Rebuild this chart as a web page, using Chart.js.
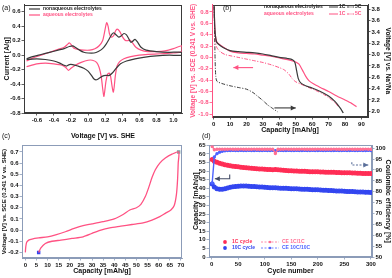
<!DOCTYPE html>
<html>
<head>
<meta charset="utf-8">
<script src="https://cdn.jsdelivr.net/npm/chart.js@4.4.0/dist/chart.umd.min.js"></script>
<style>
  html, body { margin: 0; padding: 0; background: #fff; }
  #wrap { position: relative; width: 392px; height: 278px; overflow: hidden; }
  canvas { position: absolute; }
</style>
</head>
<body>
<div id="wrap">
  <canvas id="ca" width="196" height="140" style="left:0;top:0"></canvas>
  <canvas id="cb" width="206" height="140" style="left:186px;top:0"></canvas>
  <canvas id="cc" width="196" height="138" style="left:0;top:140px"></canvas>
  <canvas id="cd" width="206" height="138" style="left:186px;top:140px"></canvas>
</div>
<script>
const FONT = '"Liberation Sans", Arial, sans-serif';
const DARK = '#3a3a3a';
const PINK = '#ff5283';
const RED = '#ff2d55';
const BLUE = '#3346f0';
const STEEL = '#8c9cb8';

// (a) cyclic voltammograms, [V vs SHE, A/g], forward then reverse sweep
const cvNonaq = [
  [-0.72,-0.05],[-0.65,-0.02],[-0.55,0.01],[-0.45,0.04],[-0.35,0.07],[-0.28,0.09],[-0.22,0.12],[-0.18,0.13],
  [-0.15,0.11],[-0.1,0.07],[-0.05,0.04],[0.0,0.03],[0.07,0.03],[0.12,0.05],[0.17,0.09],[0.21,0.15],[0.25,0.23],
  [0.28,0.29],[0.3,0.31],[0.33,0.28],[0.36,0.25],[0.39,0.27],[0.42,0.3],[0.45,0.28],[0.48,0.22],[0.5,0.18],
  [0.52,0.19],[0.55,0.22],[0.58,0.18],[0.62,0.11],[0.68,0.07],[0.8,0.05],[0.95,0.04],[1.1,0.04],
  [1.1,0.0],[0.95,0.0],[0.8,-0.01],[0.65,-0.03],[0.55,-0.05],[0.45,-0.08],[0.38,-0.12],[0.33,-0.18],[0.29,-0.24],
  [0.25,-0.28],[0.21,-0.28],[0.17,-0.29],[0.13,-0.32],[0.1,-0.34],[0.07,-0.33],[0.04,-0.28],[0.0,-0.22],
  [-0.05,-0.18],[-0.12,-0.15],[-0.18,-0.13],[-0.22,-0.13],[-0.25,-0.15],[-0.28,-0.14],[-0.33,-0.11],[-0.4,-0.08],
  [-0.5,-0.06],[-0.6,-0.05],[-0.72,-0.06]
];
const cvAq = [
  [-0.72,-0.08],[-0.65,-0.04],[-0.55,0.0],[-0.45,0.04],[-0.35,0.08],[-0.28,0.11],[-0.24,0.15],[-0.22,0.17],
  [-0.2,0.15],[-0.17,0.1],[-0.12,0.08],[-0.05,0.07],[0.02,0.07],[0.08,0.09],[0.13,0.13],[0.17,0.2],[0.19,0.3],
  [0.21,0.42],[0.22,0.45],[0.235,0.4],[0.25,0.3],[0.27,0.25],[0.3,0.27],[0.32,0.33],[0.34,0.36],[0.37,0.33],
  [0.4,0.26],[0.43,0.21],[0.46,0.2],[0.49,0.21],[0.52,0.17],[0.56,0.11],[0.62,0.07],[0.7,0.05],[0.8,0.05],
  [0.9,0.06],[1.0,0.09],[1.1,0.13],
  [1.1,0.05],[1.0,0.03],[0.85,0.02],[0.7,0.01],[0.6,0.0],[0.5,-0.02],[0.42,-0.05],[0.37,-0.09],[0.34,-0.15],
  [0.32,-0.28],[0.305,-0.45],[0.295,-0.51],[0.28,-0.42],[0.265,-0.3],[0.25,-0.25],[0.23,-0.26],[0.21,-0.36],
  [0.195,-0.5],[0.185,-0.57],[0.17,-0.45],[0.155,-0.3],[0.13,-0.17],[0.1,-0.1],[0.05,-0.07],[0.0,-0.07],
  [-0.08,-0.1],[-0.15,-0.14],[-0.2,-0.18],[-0.23,-0.21],[-0.26,-0.17],[-0.3,-0.14],[-0.4,-0.12],[-0.5,-0.11],
  [-0.6,-0.12],[-0.72,-0.16]
];

// (b) discharge curves, [mAh/g, V]; nonaqueous vs Na+/Na, aqueous vs SCE
const disNonaq1C = [
  [0.3,3.85],[0.6,3.55],[1,3.35],[1.8,3.22],[3,3.18],[6,3.12],[10,3.07],[15,3.05],[20,3.04],[25,3.03],[30,3.01],
  [35,2.98],[40,2.95],[45,2.93],[48,2.91],[49.5,2.86],[50.5,2.72],[51.5,2.58],[53,2.5],[56,2.45],[60,2.41],
  [65,2.35],[70,2.27],[74,2.17],[77,2.06],[79,1.97]
];
const disNonaq5C = [
  [0.3,3.85],[0.6,3.4],[0.9,2.9],[1.3,2.62],[2,2.53],[5,2.49],[10,2.45],[15,2.42],[20,2.39],[24,2.33],
  [27,2.26],[30,2.19],[33,2.11],[36,2.05],[39,1.99]
];
const disAq1C = [
  [0.3,0.9],[0.6,0.6],[1,0.4],[1.8,0.28],[3,0.24],[6,0.18],[10,0.11],[15,0.08],[20,0.07],[25,0.06],[30,0.04],
  [35,0.02],[40,-0.01],[45,-0.04],[48,-0.06],[50,-0.08],[52,-0.12],[54,-0.22],[56,-0.33],[58,-0.41],[61,-0.47],
  [65,-0.53],[70,-0.6],[75,-0.68],[80,-0.75],[84,-0.81],[87,-0.87]
];
const disAq5C = [
  [0.3,0.9],[0.6,0.5],[1,0.28],[2,0.17],[4,0.1],[7,0.05],[10,0.03],[15,0.0],[20,-0.03],[25,-0.06],[30,-0.09],
  [35,-0.13],[40,-0.18],[43,-0.22],[46,-0.3],[48,-0.38],[50,-0.43],[53,-0.47],[57,-0.52],[62,-0.58],[67,-0.65],
  [71,-0.73],[74,-0.8],[76,-0.87]
];
const arrowAq = [[24,-0.18],[12,-0.18]];
const arrowNonaq = [[37,2.06],[50,2.06]];

// (c) charge/discharge loop, [mAh/g, V vs SCE]
const loopC = [
  [0,-0.2],[0.2,-0.15],[0.6,-0.11],[1.5,-0.09],[3,-0.08],[6,-0.07],[10,-0.06],[14,-0.04],[18,-0.015],[22,0.015],
  [26,0.04],[30,0.055],[35,0.075],[40,0.1],[44,0.14],[47,0.18],[50,0.2],[52,0.23],[54,0.3],[55.5,0.38],[57,0.47],
  [58.5,0.54],[60.5,0.6],[63,0.645],[66,0.68],[69,0.7],
  [68.8,0.6],[68.5,0.45],[68,0.32],[67,0.22],[65.5,0.18],[63,0.15],[60.5,0.12],[57,0.09],[53,0.065],[48,0.05],
  [43,0.035],[38,0.02],[34,0.0],[30,-0.03],[26,-0.06],[21,-0.075],[16,-0.09],[12,-0.1],[9,-0.12],[7,-0.16],[6,-0.2]
];
const loopStart = [[6,-0.2]];
const loopEnd = [[69,0.7]];

// (d) cycling, every 5th cycle
const cycles = [1,5,10,15,20,25,30,35,40,45,50,55,60,65,70,75,80,85,90,95,100,105,110,115,120,125,130,135,140,145,150,
  155,160,165,170,175,180,185,190,195,200,205,210,215,220,225,230,235,240,245,250,255,260,265,270,275,280,285,290,295,300];
const cap1C = [56.8,55.8,55.2,54.6,54.1,53.7,53.4,53.1,52.9,52.7,52.5,52.3,52.1,52.0,51.8,51.7,51.5,51.4,51.3,51.2,51.1,
  51.0,50.9,50.8,51.0,50.8,50.6,50.5,50.4,50.3,50.2,50.1,50.1,50.0,49.9,49.9,49.8,49.7,49.7,49.6,49.6,49.5,49.5,49.4,
  49.4,49.3,49.3,49.2,49.2,49.1,49.1,49.0,49.0,48.9,48.9,48.8,48.8,48.7,48.7,48.6,48.6];
const cap10C = [42.5,40.8,39.8,39.4,39.5,39.8,40.2,40.6,40.9,41.1,41.2,41.3,41.3,41.3,41.2,41.1,41.0,40.9,40.8,40.7,40.6,
  40.5,40.4,40.3,40.3,40.2,40.1,40.0,40.0,39.9,39.8,39.7,39.7,39.6,39.5,39.4,39.4,39.3,39.2,39.2,39.1,39.0,38.9,38.9,
  38.8,38.7,38.6,38.5,38.5,38.4,38.3,38.2,38.1,38.1,38.0,37.9,37.9,37.8,37.7,37.7,37.6];
const ce1C = [100.8,99.3,99.5,99.5,99.5,99.5,99.5,99.6,99.5,99.5,99.5,99.6,99.5,99.5,99.5,99.5,99.6,99.5,99.5,99.5,99.5,
  99.5,99.5,99.6,97.6,99.5,99.5,99.5,99.6,99.5,99.5,99.5,99.5,99.5,99.6,99.5,99.5,99.5,99.5,99.5,99.6,99.5,99.5,99.5,
  99.5,99.5,99.6,99.5,99.5,99.5,99.5,99.5,99.6,99.5,99.5,99.5,99.5,99.5,99.6,99.5,99.5];
const ce10C = [84.0,96.0,97.5,98.2,98.6,98.8,98.9,98.9,99.0,98.9,98.9,99.0,98.9,98.9,99.0,98.9,98.9,99.0,98.9,98.9,99.0,
  98.9,98.9,99.0,98.9,98.9,99.0,98.9,98.9,99.0,98.9,98.9,99.0,98.9,98.9,99.0,98.9,98.9,99.0,98.9,98.9,99.0,98.9,98.9,
  99.0,98.9,98.9,99.0,98.9,98.9,99.0,98.9,98.9,99.0,98.9,98.9,99.0,98.9,98.9,99.0,98.9];
const arrowCap = [[34,48],[34,45.6],[6,45.6]];
const arrowCE = [[264,93.6],[264,92.3],[295,92.3]];

function pts(arr) { return arr.map(p => ({ x: p[0], y: p[1] })); }
function xy(xs, ys) { return xs.map((x, i) => ({ x: x, y: ys[i] })); }
function fmt(d) { return v => (Math.abs(v) < 1e-9 ? 0 : v).toFixed(d); }

function axis(o) {
  const col = o.color || DARK;
  return {
    type: 'linear', position: o.position, min: o.min, max: o.max,
    afterFit: s => { if (s.isHorizontal()) s.height = o.size; else s.width = o.size; },
    border: { display: true, color: col, width: 1 },
    grid: { drawOnChartArea: false, drawTicks: true, tickLength: 2.5, color: col, lineWidth: 0.8 },
    ticks: {
      stepSize: o.step, includeBounds: false, autoSkip: false, maxRotation: 0, padding: 1,
      color: o.tickColor || '#111', font: { family: FONT, size: 6, weight: 'bold' }, callback: o.fmt
    },
    title: {
      display: true, text: o.title, color: o.tickColor || '#111',
      font: { family: FONT, size: o.titleSize || 7, weight: 'bold' }, padding: o.titlePad || 0
    }
  };
}

function line(data, color, extra) {
  return Object.assign({ data: data, borderColor: color, backgroundColor: color, borderWidth: 1.2,
    pointRadius: 0, tension: 0.25, fill: false }, extra || {});
}

function extras(cfg) {
  return {
    id: 'extras',
    beforeDraw(chart) {
      const { ctx, chartArea: a } = chart;
      ctx.save();
      ctx.strokeStyle = cfg.box; ctx.lineWidth = 1;
      ctx.strokeRect(Math.round(a.left) + 0.5, Math.round(a.top) + 0.5,
        Math.round(a.right - a.left) - 1, Math.round(a.bottom - a.top) - 1);
      ctx.restore();
    },
    afterDraw(chart) {
      const ctx = chart.ctx;
      ctx.save();
      ctx.textBaseline = 'middle';
      (cfg.samples || []).forEach(s => {
        ctx.strokeStyle = s.color; ctx.lineWidth = s.width || 1.2;
        ctx.setLineDash(s.dash || []);
        if (s.width !== 0) { ctx.beginPath(); ctx.moveTo(s.x1, s.y); ctx.lineTo(s.x2, s.y); ctx.stroke(); }
        ctx.setLineDash([]);
        if (s.dot) {
          ctx.fillStyle = s.color;
          ctx.beginPath(); ctx.arc((s.x1 + s.x2) / 2, s.y, s.dot, 0, Math.PI * 2); ctx.fill();
        }
      });
      (cfg.texts || []).forEach(t => {
        ctx.font = (t.bold === false ? '' : 'bold ') + (t.size || 5) + 'px ' + FONT;
        ctx.fillStyle = t.color || '#111';
        ctx.fillText(t.text, t.x, t.y);
      });
      (cfg.arrows || []).forEach(ar => {
        const xs = chart.scales.x, ys = chart.scales[ar.axis];
        const p = ar.path.map(q => [xs.getPixelForValue(q[0]), ys.getPixelForValue(q[1])]);
        ctx.strokeStyle = ar.color; ctx.fillStyle = ar.color; ctx.lineWidth = 1.1;
        ctx.setLineDash(ar.dash || []);
        ctx.beginPath(); ctx.moveTo(p[0][0], p[0][1]);
        for (let i = 1; i < p.length; i++) ctx.lineTo(p[i][0], p[i][1]);
        ctx.stroke(); ctx.setLineDash([]);
        const e = p[p.length - 1], b = p[p.length - 2];
        const ang = Math.atan2(e[1] - b[1], e[0] - b[0]);
        ctx.beginPath();
        ctx.moveTo(e[0], e[1]);
        ctx.lineTo(e[0] - 5 * Math.cos(ang) + 2.5 * Math.sin(ang), e[1] - 5 * Math.sin(ang) - 2.5 * Math.cos(ang));
        ctx.lineTo(e[0] - 5 * Math.cos(ang) - 2.5 * Math.sin(ang), e[1] - 5 * Math.sin(ang) + 2.5 * Math.cos(ang));
        ctx.closePath(); ctx.fill();
      });
      ctx.restore();
    }
  };
}

function makeChart(id, datasets, scales, padding, cfg) {
  return new Chart(document.getElementById(id), {
    type: 'line',
    data: { datasets: datasets },
    options: {
      responsive: false, animation: false, events: [], devicePixelRatio: 1,
      layout: { padding: padding },
      plugins: { legend: { display: false }, tooltip: { enabled: false } },
      scales: scales
    },
    plugins: [extras(cfg)]
  });
}

// (a)
makeChart('ca',
  [line(pts(cvNonaq), DARK), line(pts(cvAq), PINK)],
  {
    x: axis({ position: 'bottom', min: -0.75, max: 1.1, step: 0.2, size: 27, fmt: fmt(1), title: 'Voltage [V] vs. SHE' }),
    y: axis({ position: 'left', min: -0.8, max: 0.7, step: 0.2, size: 24, fmt: fmt(1), title: 'Current [A/g]', titlePad: 3 })
  },
  { top: 2, right: 14, left: 0, bottom: 0 },
  {
    box: DARK,
    samples: [
      { x1: 29, x2: 40, y: 9, color: DARK },
      { x1: 29, x2: 40, y: 15, color: PINK }
    ],
    texts: [
      { text: '(a)', x: 2, y: 8, size: 7, bold: false },
      { text: 'nonaqueous electrolytes', x: 43, y: 9, color: '#222' },
      { text: 'aqueous electrolytes', x: 43, y: 15, color: PINK },
      { text: '(c)', x: 2, y: 136, size: 7, bold: false }
    ]
  });

// (b)
const DASHDOT = [4, 1.5, 1, 1.5];
makeChart('cb',
  [
    line(pts(disNonaq1C), DARK, { yAxisID: 'y2' }),
    line(pts(disNonaq5C), DARK, { yAxisID: 'y2', borderDash: DASHDOT, borderWidth: 1 }),
    line(pts(disAq1C), PINK, { yAxisID: 'y' }),
    line(pts(disAq5C), PINK, { yAxisID: 'y', borderDash: DASHDOT, borderWidth: 1 })
  ],
  {
    x: axis({ position: 'bottom', min: -1, max: 94, step: 10, size: 23, fmt: fmt(0), title: 'Capacity [mAh/g]', titlePad: { bottom: 6 } }),
    y: axis({ position: 'left', min: -1.05, max: 0.93, step: 0.2, size: 26, fmt: fmt(1), color: PINK, tickColor: PINK,
      title: 'Voltage [V] vs. SCE (0.241 V vs. SHE)', titleSize: 6.5, titlePad: 3 }),
    y2: axis({ position: 'right', min: 1.9, max: 3.88, step: 0.2, size: 24, fmt: fmt(1),
      title: 'Voltage [V] vs. Na\u207A/Na', titleSize: 6.5 })
  },
  { top: 2, right: 0, left: 0, bottom: 0 },
  {
    box: DARK,
    samples: [
      { x1: 143, x2: 152, y: 7, color: DARK, width: 1 },
      { x1: 161, x2: 168, y: 7, color: DARK, width: 1, dash: [2.5, 1, 1, 1] },
      { x1: 143, x2: 152, y: 14, color: PINK, width: 1 },
      { x1: 161, x2: 168, y: 14, color: PINK, width: 1, dash: [2.5, 1, 1, 1] }
    ],
    texts: [
      { text: '(b)', x: 37, y: 8, size: 7, bold: false },
      { text: 'nonaqueous electrolytes', x: 78, y: 7, color: '#222' },
      { text: '1C', x: 153, y: 7, color: '#222' },
      { text: '5C', x: 169, y: 7, color: '#222' },
      { text: 'aqueous electrolytes', x: 78, y: 14, color: PINK },
      { text: '1C', x: 153, y: 14, color: PINK },
      { text: '5C', x: 169, y: 14, color: PINK },
      { text: '(d)', x: 16, y: 136, size: 7, bold: false }
    ],
    arrows: [
      { path: arrowAq, axis: 'y', color: PINK },
      { path: arrowNonaq, axis: 'y2', color: DARK }
    ]
  });

// (c)
makeChart('cc',
  [
    line(pts(loopC), PINK, { borderWidth: 1.3 }),
    line(pts(loopStart), BLUE, { showLine: false, pointRadius: 1.6, pointStyle: 'rect' }),
    line(pts(loopEnd), '#7fa6a6', { showLine: false, pointRadius: 1.6, pointStyle: 'rect' })
  ],
  {
    x: axis({ position: 'bottom', min: -1.5, max: 70.5, step: 5, size: 20, fmt: fmt(0), color: STEEL, title: 'Capacity [mAh/g]', titlePad: { bottom: 3 } }),
    y: axis({ position: 'left', min: -0.25, max: 0.76, step: 0.1, size: 22, fmt: fmt(1), color: STEEL,
      title: 'Voltage [V] vs. SCE (0.241 V vs. SHE)', titleSize: 6, titlePad: 1 })
  },
  { top: 2, right: 14, left: 0, bottom: 0 },
  { box: STEEL });

// (d)
makeChart('cd',
  [
    line(xy(cycles, ce1C), '#ff6f93', { yAxisID: 'y2', borderWidth: 1.4, pointRadius: 1, tension: 0 }),
    line(xy(cycles, ce10C), '#4d63ff', { yAxisID: 'y2', borderWidth: 1.4, pointRadius: 1, tension: 0 }),
    line(xy(cycles, cap1C), RED, { yAxisID: 'y', showLine: false, pointRadius: 1.9 }),
    line(xy(cycles, cap10C), BLUE, { yAxisID: 'y', showLine: false, pointRadius: 1.9 })
  ],
  {
    x: axis({ position: 'bottom', min: -5, max: 302, step: 50, size: 21, fmt: fmt(0), color: STEEL, title: 'Cycle number', titlePad: { bottom: 3 } }),
    y: axis({ position: 'left', min: 0, max: 65, step: 5, size: 23, fmt: fmt(0), color: STEEL, title: 'Capacity [mAh/g]', titlePad: 6 }),
    y2: axis({ position: 'right', min: 50, max: 101.3, step: 5, size: 20, fmt: fmt(0), color: STEEL, title: 'Coulombic efficiency [%]' })
  },
  { top: 2, right: 0, left: 0, bottom: 0 },
  {
    box: STEEL,
    samples: [
      { x1: 38, x2: 40, y: 102, color: RED, dot: 1.9, width: 0 },
      { x1: 38, x2: 40, y: 108, color: BLUE, dot: 1.9, width: 0 },
      { x1: 75, x2: 93, y: 102, color: '#ff6f93', dot: 1.3, width: 0.8, dash: [2, 1.5] },
      { x1: 75, x2: 93, y: 108, color: '#4d63ff', dot: 1.3, width: 0.8, dash: [2, 1.5] }
    ],
    texts: [
      { text: '1C cycle', x: 46, y: 102, color: RED },
      { text: '10C cycle', x: 46, y: 108, color: BLUE },
      { text: 'CE 1C/1C', x: 96, y: 102, color: '#ff6f93' },
      { text: 'CE 10C/10C', x: 96, y: 108, color: '#4d63ff' }
    ],
    arrows: [
      { path: arrowCap, axis: 'y', color: '#444c66' },
      { path: arrowCE, axis: 'y2', color: '#5a6f9a', dash: [2, 1.5] }
    ]
  });
</script>
</body>
</html>
